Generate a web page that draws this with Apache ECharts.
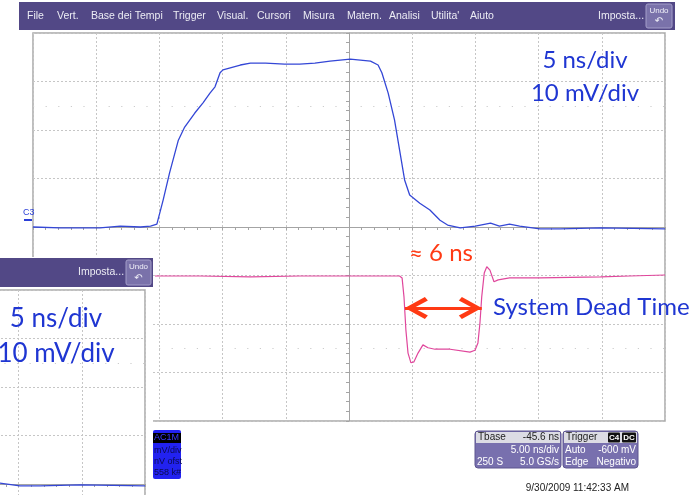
<!DOCTYPE html>
<html><head><meta charset="utf-8">
<script src="https://cdn.jsdelivr.net/npm/echarts@6/dist/echarts.min.js"></script>
<style>html,body{margin:0;padding:0;background:#fff}#c{width:697px;height:495px}</style>
</head><body><div id="c"></div>
<script>
// ---- data (time in ns, amplitude in mV) ----
const blueTime = [-25,-22.86,-19.7,-18.1,-16.5,-15.7,-15.2,-14.7,-14.2,-13.5,-13.0,-12.2,-11.55,-11.0,-10.6,-10.2,-9.97,-8.6,-7.8,-6.6,-5.1,-3.9,-2.7,-1.5,0.1,1.7,2.3,2.6,3.1,3.6,4.0,4.4,4.8,5.6,6.4,7.2,7.8,8.8,10.0,11.2,11.9,12.7,13.5,15.1,16.7,19.9,25];
const blueMv   = [0,-0.2,-0.2,0.2,0,0.2,0.6,5.6,11.1,17.9,20.6,23.5,25.6,27.6,28.9,31.8,32.4,33.4,33.8,33.8,33.6,33.6,33.8,34.2,34.6,34.2,33.4,31.8,27.6,22.1,15.9,9.7,6.6,4.9,3.5,1.4,0.4,-0.2,0.2,0.8,0.2,0.6,0.2,-0.4,-0.4,-0.2,-0.4];
const pinkTime = [-15.35,-11.8,-7.8,-3.9,0.08,4.0,4.2,4.35,4.5,4.67,4.9,5.14,5.46,5.85,6.25,6.8,8.0,9.57,9.97,10.2,10.36,10.5,10.7,10.9,11.15,11.47,11.8,12.7,15.1,19.9,22.2,25];
const pinkMv   = [-10.1,-10.1,-10.3,-10.1,-10.1,-10.1,-10.5,-14.4,-21.2,-26.0,-28.0,-27.8,-26.0,-24.3,-24.9,-25.2,-25.2,-25.8,-25.4,-23.9,-19.8,-14.4,-9.5,-8.2,-8.9,-11.3,-10.9,-10.5,-10.5,-10.3,-10.1,-9.9];
const timeRange = [-25, 25], timeStep = 5;
const voltRange = [-40, 40], voltStep = 10;
const refLevels = [25, -25];
const arrowSpan = [4.43, 10.5];
const arrowLevel = -16.7;
const menuItems = ['File','Vert.','Base dei Tempi','Trigger','Visual.','Cursori','Misura','Matem.','Analisi',"Utilita'",'Aiuto'];
const menuX = [27,57,91,173,217,257,303,347,389,431,470];

const blueData = blueTime.map((t,i)=>[t, blueMv[i]]);
const pinkData = pinkTime.map((t,i)=>[t, pinkMv[i]]);

const AX = '#a4a4a4';
function mkAxis(kind, gi, z){
  const r = kind==='x' ? timeRange : voltRange;
  const s = kind==='x' ? timeStep : voltStep;
  return {type:'value', gridIndex:gi, min:r[0], max:r[1], interval:s, z:z,
    axisLabel:{show:false},
    axisLine:{show:true, onZero:true, lineStyle:{color:AX, width:1}},
    axisTick:{show:true, length:3, lineStyle:{color:AX}},
    minorTick:{show:true, splitNumber:5, length:3, lineStyle:{color:AX}},
    splitLine:{show:true, lineStyle:{color:'#c6c6c6', type:[2,2], width:1}},
    minorSplitLine:{show:false}};
}
const dotted = (z)=>({silent:true, symbol:'none', z:z, label:{show:false},
  lineStyle:{color:'#cccccc', type:[1.2,11.4], width:1},
  data: refLevels.map(v=>({yAxis:v}))});

const chevron = 'path://M11,0 L22,20 L18.5,23 L11,9 L3.5,23 L0,20 Z';

const T = (x,y,text,opt)=>Object.assign({type:'text', x:x, y:y, z:opt&&opt.z||72,
  style:Object.assign({text:text, fill:'#ececf4', font:'10.5px "Liberation Sans", Arial, sans-serif',
    align:'left', textAlign:'left', verticalAlign:'middle', textVerticalAlign:'middle'}, opt&&opt.style)});
const R = (x,y,w,h,fill,opt)=>Object.assign({type:'rect', z:opt&&opt.z||70,
  shape:{x:x,y:y,width:w,height:h,r:(opt&&opt.r)||0},
  style:Object.assign({fill:fill}, opt&&opt.style)});

const right = {align:'right', textAlign:'right'};
const center = {align:'center', textAlign:'center'};
const small = '10px "Liberation Sans", Arial, sans-serif';
const calib = (fs)=> fs+'px Lato, "Open Sans", sans-serif';

const g = [];
// main menu bar
g.push(R(19,2,656,28,'#524886',{z:40}));
menuItems.forEach((m,i)=>g.push(T(menuX[i],16,m,{z:41})));
g.push(T(598,16,'Imposta...',{z:41}));
g.push(R(646,4,26,24,'#7a72aa',{z:41,r:2,style:{stroke:'#a39dc9',lineWidth:1}}));
g.push(T(659,11,'Undo',{z:42,style:Object.assign({font:'8px "Liberation Sans", Arial',fill:'#f0f0f8'},center)}));
g.push(T(659,21,'↶',{z:42,style:Object.assign({font:'10px "DejaVu Sans"',fill:'#f0f0f8'},center)}));
// C3 marker
g.push(T(23,213,'C3',{z:42,style:{font:'9px "Liberation Sans", Arial',fill:'#2b3fd8'}}));
g.push(R(24,219,8,2,'#2b3fd8',{z:42}));
// annotations main
g.push(T(585,60,'5 ns/div',{z:42,style:Object.assign({font:calib(24),fill:'#1f36d2'},center)}));
g.push(T(585,93,'10 mV/div',{z:42,style:Object.assign({font:calib(24),fill:'#1f36d2'},center)}));
g.push(T(409,253,'≈ 6 ns',{z:42,style:{font:calib(24),fill:'#ff3a14'}}));
g.push(T(493,307,'System Dead Time',{z:42,style:{font:calib(24),fill:'#1f36d2'}}));
// bottom info boxes
g.push(R(153,430,28,49,'#2222f0',{z:42,r:2}));
g.push(R(153,433,28,10,'#000',{z:43}));
g.push(T(154,438,'AC1M',{z:44,style:{font:'9px "Liberation Sans", Arial',fill:'#3a3aff'}}));
g.push(T(154,451,'mV/div',{z:44,style:{font:'9px "Liberation Sans", Arial',fill:'#0b0b50'}}));
g.push(T(154,462,'nV ofst',{z:44,style:{font:'9px "Liberation Sans", Arial',fill:'#0b0b50'}}));
g.push(T(154,473,'558 k#',{z:44,style:{font:'9px "Liberation Sans", Arial',fill:'#0b0b50'}}));

g.push(R(475,431,86,37,'#7870ae',{z:42,r:3,style:{stroke:'#5d558f',lineWidth:1}}));
g.push(R(476,432,84,11,'#dcdce4',{z:43}));
g.push(T(478,437.5,'Tbase',{z:44,style:{font:small,fill:'#222'}}));
g.push(T(559,437.5,'-45.6 ns',{z:44,style:Object.assign({font:small,fill:'#222'},right)}));
g.push(T(559,450,'5.00 ns/div',{z:44,style:Object.assign({font:small,fill:'#fff'},right)}));
g.push(T(477,462,'250 S',{z:44,style:{font:small,fill:'#fff'}}));
g.push(T(559,462,'5.0 GS/s',{z:44,style:Object.assign({font:small,fill:'#fff'},right)}));

g.push(R(563,431,75,37,'#7870ae',{z:42,r:3,style:{stroke:'#5d558f',lineWidth:1}}));
g.push(R(564,432,73,11,'#dcdce4',{z:43}));
g.push(T(566,437.5,'Trigger',{z:44,style:{font:small,fill:'#222'}}));
g.push(R(608,432.5,12,10,'#111',{z:44,r:1}));
g.push(R(622,432.5,14,10,'#111',{z:44,r:1}));
g.push(T(614,437.5,'C4',{z:45,style:Object.assign({font:'bold 8px "Liberation Sans", Arial',fill:'#fff'},center)}));
g.push(T(629,437.5,'DC',{z:45,style:Object.assign({font:'bold 8px "Liberation Sans", Arial',fill:'#fff'},center)}));
g.push(T(565,450,'Auto',{z:44,style:{font:small,fill:'#fff'}}));
g.push(T(636,450,'-600 mV',{z:44,style:Object.assign({font:small,fill:'#fff'},right)}));
g.push(T(565,462,'Edge',{z:44,style:{font:small,fill:'#fff'}}));
g.push(T(636,462,'Negativo',{z:44,style:Object.assign({font:small,fill:'#fff'},right)}));
g.push(T(629,488,'9/30/2009 11:42:33 AM',{z:44,style:Object.assign({font:small,fill:'#222'},right)}));

// inset cover + menu bar
g.push(R(0,257,153,238,'#fff',{z:50}));
g.push(R(0,258,153,29,'#524886',{z:70}));
g.push(T(78,272,'Imposta...',{z:71}));
g.push(R(126,260,25,25,'#7a72aa',{z:71,r:2,style:{stroke:'#a39dc9',lineWidth:1}}));
g.push(T(138.5,267,'Undo',{z:72,style:Object.assign({font:'8px "Liberation Sans", Arial',fill:'#f0f0f8'},center)}));
g.push(T(138.5,278,'↶',{z:72,style:Object.assign({font:'10px "DejaVu Sans"',fill:'#f0f0f8'},center)}));
g.push(T(56,319,'5 ns/div',{z:72,style:Object.assign({font:calib(26),fill:'#1f36d2'},center)}));
g.push(T(56,354,'10 mV/div',{z:72,style:Object.assign({font:calib(26),fill:'#1f36d2'},center)}));

const option = {
  animation:false,
  backgroundColor:'#fff',
  grid:[
    {left:33, top:33, width:632, height:388, show:true, borderColor:'#a9a9a9', borderWidth:1.5, backgroundColor:'#fff', z:0, outerBoundsMode:'none', containLabel:false},
    {left:-487, top:290, width:632, height:388, show:true, borderColor:'#a9a9a9', borderWidth:1.5, backgroundColor:'#fff', z:55, outerBoundsMode:'none', containLabel:false}
  ],
  xAxis:[mkAxis('x',0,1), mkAxis('x',1,60)],
  yAxis:[mkAxis('y',0,1), mkAxis('y',1,60)],
  series:[
    {type:'line', xAxisIndex:0, yAxisIndex:0, data:blueData, showSymbol:false, z:3,
      lineStyle:{color:'#3447d6', width:1.3}, markLine:dotted(2)},
    {type:'line', xAxisIndex:0, yAxisIndex:0, data:pinkData, showSymbol:false, z:3,
      lineStyle:{color:'#e0479c', width:1.2},
      markLine:{silent:true, z:6, symbol:[chevron, chevron], symbolSize:[22,23], label:{show:false},
        lineStyle:{color:'#ff3a14', width:3, type:'solid', opacity:1},
        itemStyle:{color:'#ff3a14'},
        data:[
          [{coord:[arrowSpan[0],arrowLevel], symbol:'none'},{coord:[arrowSpan[1],arrowLevel], symbol:'none'}],
          [{coord:[arrowSpan[0]+0.9,arrowLevel]},{coord:[arrowSpan[1]-0.9,arrowLevel]}]
        ]}},
    {type:'line', xAxisIndex:1, yAxisIndex:1, data:blueData, showSymbol:false, z:61,
      lineStyle:{color:'#3447d6', width:1.3}, markLine:dotted(61)}
  ],
  graphic:{elements:g}
};
const chart = echarts.init(document.getElementById('c'), null, {renderer:'canvas'});
chart.setOption(option);
</script></body></html>
